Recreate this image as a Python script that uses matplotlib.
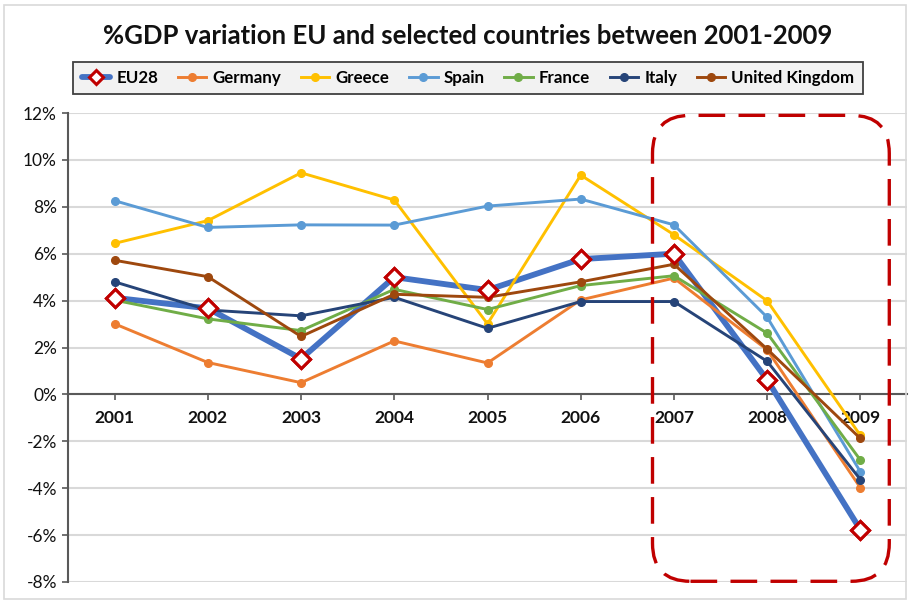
import matplotlib
matplotlib.use("Agg")
import matplotlib.pyplot as plt
from matplotlib.patches import FancyBboxPatch, Rectangle
from matplotlib.transforms import IdentityTransform
from matplotlib.ticker import FuncFormatter

years = ["2001", "2002", "2003", "2004", "2005", "2006", "2007", "2008", "2009"]
eu28 = [4.12, 3.67, 1.52, 5.00, 4.45, 5.77, 6.00, 0.62, -5.77]
germany = [3.01, 1.36, 0.50, 2.28, 1.34, 4.03, 4.96, 1.90, -3.98]
greece = [6.44, 7.41, 9.45, 8.29, 3.01, 9.35, 6.81, 3.99, -1.75]
spain = [8.26, 7.12, 7.23, 7.22, 8.03, 8.33, 7.23, 3.29, -3.30]
france = [4.02, 3.22, 2.72, 4.48, 3.62, 4.64, 5.06, 2.61, -2.80]
italy = [4.80, 3.60, 3.35, 4.14, 2.82, 3.96, 3.96, 1.41, -3.63]
uk = [5.72, 5.02, 2.47, 4.27, 4.14, 4.80, 5.55, 1.93, -1.88]

series = [
    ("Germany", germany, "#ED7D31"),
    ("Greece", greece, "#FFC000"),
    ("Spain", spain, "#5B9BD5"),
    ("France", france, "#70AD47"),
    ("Italy", italy, "#264478"),
    ("United Kingdom", uk, "#9E480E"),
]

plt.rcParams["font.family"] = ["Lato", "DejaVu Sans"]

W, H = 910, 603
fig = plt.figure(figsize=(W / 100, H / 100), dpi=100)
fig.patch.set_facecolor("white")
ax = fig.add_axes([68 / W, 1 - 582 / H, (907 - 68) / W, (582 - 113) / H])

x = list(range(len(years)))
handles = []
eu_line, = ax.plot(x, eu28, color="#4472C4", lw=4.2, zorder=3,
                   marker="D", markersize=9, markerfacecolor="white",
                   markeredgecolor="#C00000", markeredgewidth=2.2, solid_capstyle="round")
handles.append(eu_line)
for name, vals, col in series:
    ln, = ax.plot(x, vals, color=col, lw=2.1, marker="o", markersize=5.5,
                  markeredgecolor=col, markerfacecolor=col, zorder=4)
    handles.append(ln)
ax.plot(x, eu28, lw=0, marker="D", markersize=9, markerfacecolor="white",
        markeredgecolor="#C00000", markeredgewidth=2.2, zorder=6)

ax.set_xlim(-0.5, len(years) - 0.5)
ax.set_ylim(-8, 12)
ax.set_yticks(range(-8, 13, 2))
ax.yaxis.set_major_formatter(FuncFormatter(lambda v, p: f"{int(v)}%"))
ax.set_xticks(x)
ax.set_xticklabels(years)
ax.grid(axis="y", color="#d9d9d9", lw=1.5, zorder=0)
ax.set_axisbelow(True)
for s in ["top", "right"]:
    ax.spines[s].set_visible(False)
ax.spines["bottom"].set_position(("data", 0))
ax.spines["bottom"].set_color("#595959")
ax.spines["bottom"].set_linewidth(1.5)
ax.spines["left"].set_color("#595959")
ax.spines["left"].set_linewidth(1.5)
ax.tick_params(axis="x", direction="out", length=4, width=1.2, color="#595959", pad=7,
               labelsize=12.5, labelcolor="#111111")
ax.tick_params(axis="y", direction="out", length=4, width=1.2, color="#595959",
               labelsize=12.5, labelcolor="#111111", pad=4)
for lbl in ax.get_xticklabels():
    lbl.set_fontweight("bold")

# Title
fig.text(468 / W, 1 - 36 / H, "%GDP variation EU and selected countries between 2001-2009",
         ha="center", va="center", fontsize=18.5, fontweight="bold", color="#111111")

# Legend
labels = ["EU28"] + [s[0] for s in series]
leg = fig.legend(handles, labels, loc="center", bbox_to_anchor=(468 / W, 1 - 78 / H),
                 ncol=7, frameon=True, fancybox=False, edgecolor="#404040",
                 facecolor="#f2f2f2", framealpha=1, handlelength=1.7, handletextpad=0.35,
                 columnspacing=1.15, borderpad=0.5,
                 prop={"weight": "bold", "size": 12.2})
leg.get_frame().set_linewidth(1.3)
for h in leg.legend_handles:
    h.set_markersize(5.5)
leg.legend_handles[0].set_markersize(7)

# Dashed rounded box highlighting the crisis years (display pixel coords)
fig.canvas.draw()
x0, y0 = ax.transData.transform((5.77, -7.97))
x1, y1 = ax.transData.transform((8.31, 11.9))
box = FancyBboxPatch((x0, y0), x1 - x0, y1 - y0,
                     boxstyle="round,pad=0,rounding_size=38",
                     transform=IdentityTransform(), fill=False,
                     edgecolor="#C00000", lw=2.4, linestyle=(0, (8, 4)), zorder=10)
fig.patches.append(box)

# Outer light border
fig.patches.append(Rectangle((4 / W, 4 / H), 1 - 8 / W, 1 - 9 / H,
                             transform=fig.transFigure, fill=False,
                             edgecolor="#d9d9d9", lw=1.2))

fig.savefig("out.png", dpi=100)
